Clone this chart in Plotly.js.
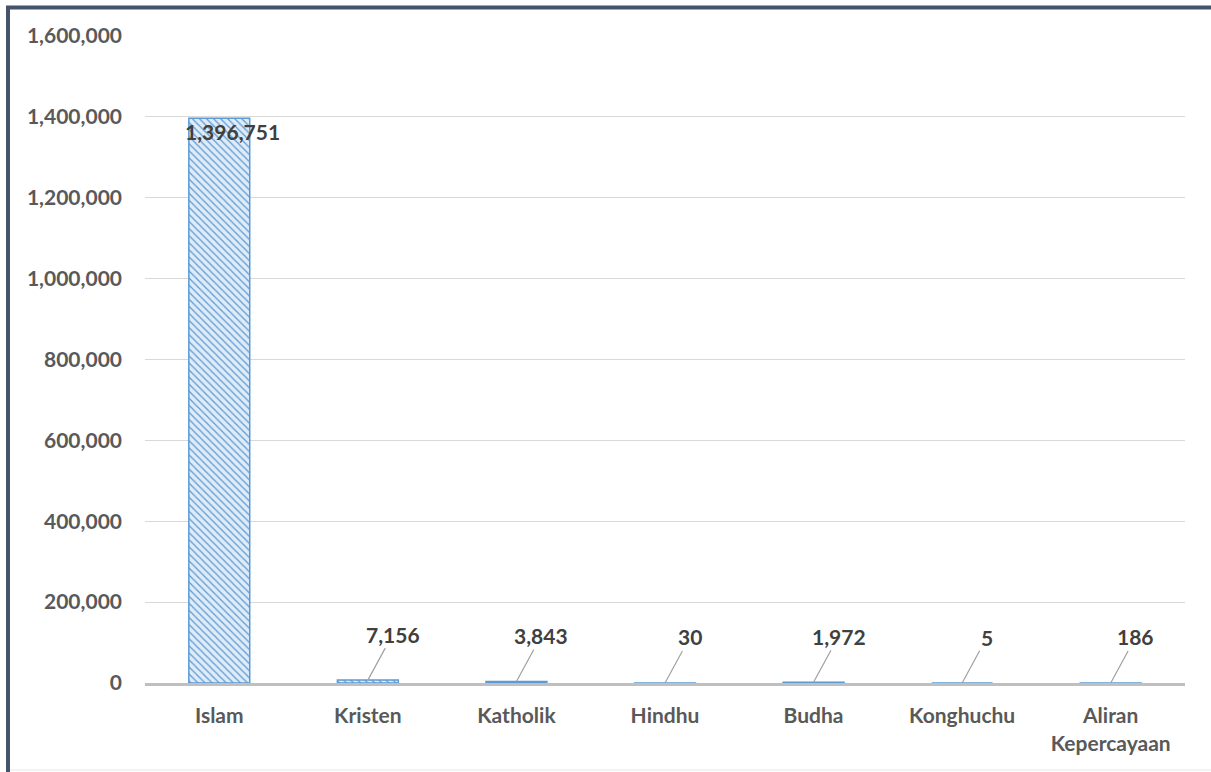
<!DOCTYPE html>
<html>
<head>
<meta charset="utf-8">
<script src="https://cdn.plot.ly/plotly-3.0.1.min.js"></script>
<style>
html,body{margin:0;padding:0;background:#fff;}
#chart{width:1211px;height:772px;}
</style>
</head>
<body>
<div id="chart"></div>
<script>
const categories = ["Islam", "Kristen", "Katholik", "Hindhu", "Budha", "Konghuchu", "Aliran<br>Kepercayaan"];
const values = [1396751, 7156, 3843, 30, 1972, 5, 186];
const yTickValues = [0, 200000, 400000, 600000, 800000, 1000000, 1200000, 1400000, 1600000];

const fmt = v => v.toLocaleString('en-US');
const FONT = 'Lato, "Open Sans", sans-serif';

const trace = {
  type: 'bar',
  x: categories,
  y: values,
  width: 0.41,
  marker: {
    color: '#dce9f6',
    line: {color: '#5b9bd5', width: 1.5},
    pattern: {shape: '\\', fgcolor: '#5b9bd5', bgcolor: '#dfebf7', size: 5, solidity: 0.25}
  },
  hoverinfo: 'x+y'
};

const annotations = categories.map((c, i) => {
  if (i === 0) {
    return {
      x: c, y: values[i], xref: 'x', yref: 'y',
      text: fmt(values[i]), showarrow: false,
      xshift: 13, yshift: -13,
      font: {family: FONT, size: 21, color: '#404040', weight: 'bold'}
    };
  }
  return {
    x: c, y: values[i], xref: 'x', yref: 'y',
    text: fmt(values[i]), showarrow: true, arrowhead: 0,
    arrowcolor: '#a0a0a0', arrowwidth: 1.2,
    ax: 25, ay: -46, standoff: 0,
    font: {family: FONT, size: 21, color: '#404040', weight: 'bold'}
  };
});

function px2x(px){ return (px - 145) / 1040; }
function py2y(py){ return (683 - py) / 647; }

const shapes = [
  {type:'line', xref:'paper', yref:'paper', x0:px2x(8), x1:px2x(8), y0:py2y(6), y1:py2y(772), line:{color:'#44546a', width:4}},
  {type:'line', xref:'paper', yref:'paper', x0:px2x(6), x1:px2x(1211), y0:py2y(7.5), y1:py2y(7.5), line:{color:'#44546a', width:4}},
  {type:'line', xref:'paper', yref:'paper', x0:px2x(10), x1:px2x(1211), y0:py2y(770), y1:py2y(770), line:{color:'#e6e6e6', width:1}}
];

const layout = {
  width: 1211, height: 772,
  margin: {l: 145, r: 26, t: 36, b: 89},
  paper_bgcolor: '#ffffff', plot_bgcolor: '#ffffff',
  showlegend: false,
  bargap: 0.59,
  xaxis: {
    type: 'category',
    showgrid: false,
    showline: true, linecolor: '#bfbfbf', linewidth: 3,
    ticks: '', ticklabelstandoff: 12,
    tickfont: {family: FONT, size: 21, color: '#595959', weight: 'bold'},
    zeroline: false
  },
  yaxis: {
    range: [0, 1600000],
    tickvals: yTickValues,
    ticktext: yTickValues.map(fmt),
    showgrid: true, gridcolor: '#d9d9d9', gridwidth: 1,
    zeroline: false, showline: false, ticks: '',
    ticklabelstandoff: 22,
    tickfont: {family: FONT, size: 21, color: '#595959', weight: 'bold'}
  },
  annotations: annotations,
  shapes: shapes
};

Plotly.newPlot('chart', [trace], layout, {displayModeBar: false, responsive: false});
</script>
</body>
</html>
